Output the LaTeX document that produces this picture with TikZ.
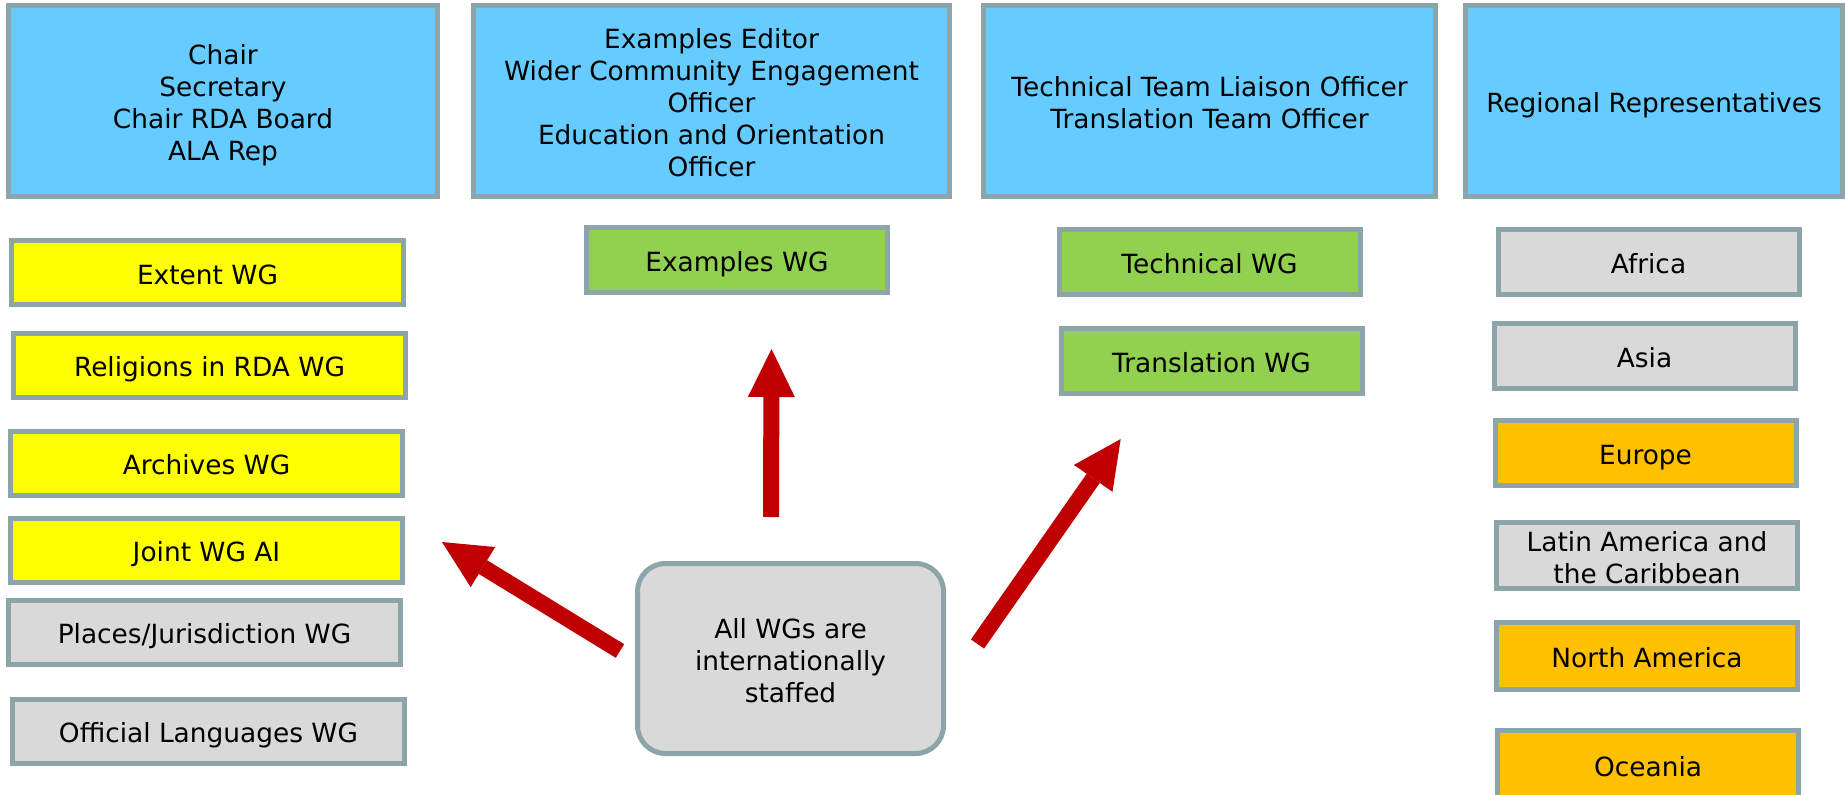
\documentclass[tikz,border=0pt]{standalone}
\usepackage{fontspec}
\setmainfont{DejaVu Sans}
\usetikzlibrary{arrows.meta}
\definecolor{bluebox}{HTML}{66CCFF}
\definecolor{yellowbox}{HTML}{FFFF00}
\definecolor{greenbox}{HTML}{92D050}
\definecolor{graybox}{HTML}{D9D9D9}
\definecolor{orangebox}{HTML}{FFC000}
\definecolor{bordercol}{HTML}{8CA5A8}
\definecolor{arrowred}{HTML}{C00000}
\newcommand\topstrut{\rule{0pt}{14pt}}
\newcommand\botstrut{\rule[-2.2pt]{0pt}{2.2pt}}
\begin{document}
\begin{tikzpicture}[x=0.5pt,y=-0.5pt,
  box/.style={draw=bordercol, line width=2.5pt, inner sep=0pt, align=center,
    font=\fontsize{13.2}{16}\selectfont, text=black},
  oneline/.style={execute at begin node={\topstrut}, execute at end node={\botstrut}},
  headbox/.style={box, fill=bluebox, minimum height=95.5pt},
  wgbox/.style={box, oneline, minimum width=196pt, minimum height=32pt},
  greenwg/.style={box, oneline, fill=greenbox, minimum width=150.5pt, minimum height=32.5pt},
  regbox/.style={box, minimum width=150.5pt, minimum height=32.5pt},
  notebox/.style={box, fill=graybox, rounded corners=14pt, minimum width=153pt, minimum height=95pt},
  arr/.style={draw=arrowred, line width=8pt,
    -{Triangle[length=24pt,width=23.5pt,line width=0pt]}}]
\useasboundingbox (0,0) rectangle (1845,794);
\fill[white] (0,0) rectangle (1845,794);

% header boxes
\node[headbox, minimum width=214.5pt] (h1) at (223,101) {\topstrut Chair\\Secretary\\Chair RDA Board\\ALA Rep\botstrut};
\node[headbox, minimum width=238pt] (h2) at (711.5,101) {\topstrut Examples Editor\\Wider Community Engagement\\Officer\\Education and Orientation\\Officer\botstrut};
\node[headbox, minimum width=226pt] (h3) at (1209.5,101) {\topstrut Technical Team Liaison Officer\\Translation Team Officer\botstrut};
\node[headbox, oneline, minimum width=188.5pt] (h4) at (1654,101) {Regional Representatives};

% left column
\node[wgbox, fill=yellowbox] (extent) at (207.5,272.5) {Extent WG};
\node[wgbox, fill=yellowbox] (relig) at (209.5,365) {Religions in RDA WG};
\node[wgbox, fill=yellowbox] (arch) at (206.5,463) {Archives WG};
\node[wgbox, fill=yellowbox] (joint) at (206.5,550) {Joint WG AI};
\node[wgbox, fill=graybox] (places) at (204.5,632) {Places/Jurisdiction WG};
\node[wgbox, fill=graybox] (official) at (208.5,731) {Official Languages WG};

% middle columns
\node[greenwg] (examples) at (737,260) {Examples WG};
\node[greenwg] (technical) at (1209.5,262) {Technical WG};
\node[greenwg] (translation) at (1211.5,360.5) {Translation WG};

% right column
\node[regbox, oneline, fill=graybox] (africa) at (1648.5,261.5) {Africa};
\node[regbox, oneline, fill=graybox] (asia) at (1644.5,356) {Asia};
\node[regbox, oneline, fill=orangebox] (europe) at (1645.5,453) {Europe};
\node[regbox, fill=graybox, minimum height=33pt] (latin) at (1647,555.5) {\topstrut Latin America and\\the Caribbean\botstrut};
\node[regbox, oneline, fill=orangebox, minimum height=33.5pt] (northam) at (1647,656) {North America};
\node[regbox, oneline, fill=orangebox, minimum height=34.5pt] (oceania) at (1648,765) {Oceania};

% centre note
\node[notebox] (note) at (790.5,658.5) {\topstrut All WGs are\\internationally\\staffed\botstrut};

% arrows
\coordinate (upTail) at (771,517);
\coordinate (upTip) at (771.5,349);
\coordinate (leftTail) at (620,651);
\coordinate (leftTip) at (442,542);
\coordinate (rightTail) at (977.5,644);
\coordinate (rightTip) at (1120.7,439);
\draw[arr] (upTail) -- (upTip);
\draw[arr] (leftTail) -- (leftTip);
\draw[arr] (rightTail) -- (rightTip);
\end{tikzpicture}
\end{document}
